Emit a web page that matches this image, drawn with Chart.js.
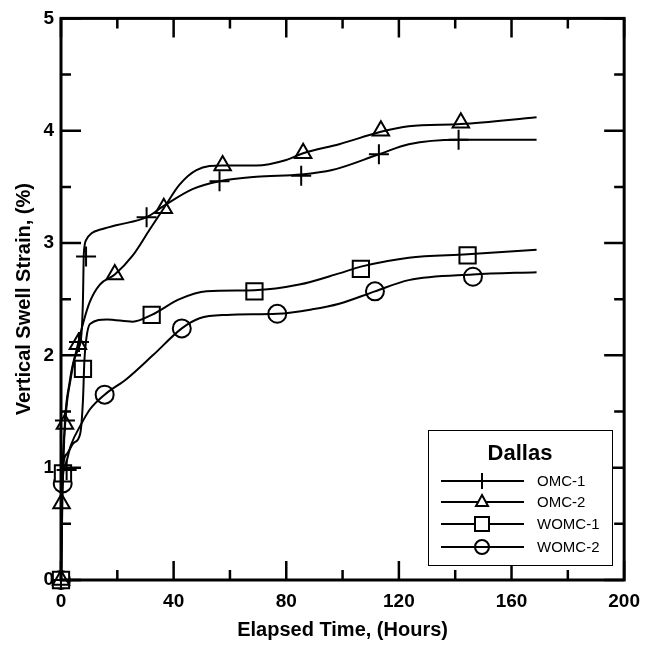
<!DOCTYPE html>
<html>
<head>
<meta charset="utf-8">
<script src="https://cdn.jsdelivr.net/npm/chart.js@4"></script>
<style>
body { margin: 0; background: #fff; }
canvas { display: block; }
</style>
</head>
<body>
<canvas id="myChart" width="650" height="656"></canvas>
<script>
// measured points (markers)
let omc1X = [0, 2, 1.4, 6.4, 8.9, 30.4, 56.3, 85.3, 112.9, 141.2];
let omc1Y = [0, 0.98, 1.42, 2.12, 2.88, 3.23, 3.55, 3.60, 3.79, 3.92];
let omc2X = [0, 0.2, 1.4, 6, 19.1, 36.5, 57.4, 86, 113.6, 142];
let omc2Y = [0, 0.68, 1.39, 2.10, 2.72, 3.31, 3.69, 3.80, 4.00, 4.07];
let womc1X = [0, 0.7, 7.8, 32.2, 68.7, 106.5, 144.4];
let womc1Y = [0, 0.95, 1.88, 2.36, 2.57, 2.77, 2.89];
let womc2X = [0, 0.6, 15.5, 42.9, 76.8, 111.5, 146.3];
let womc2Y = [0, 0.86, 1.65, 2.24, 2.37, 2.57, 2.70];

// fitted curves
let omc1FitX = [0, 0.5, 1.4, 3, 4.5, 6, 7.3, 7.8, 8.1, 9, 11, 14, 20, 30.4, 36.5, 46.7, 56.3, 69.4, 85.3, 96.3, 112.9, 123.5, 141, 168.9];
let omc1FitY = [0, 0.7, 1.4, 1.75, 1.95, 2.05, 2.2, 2.5, 2.9, 3.03, 3.09, 3.12, 3.16, 3.23, 3.33, 3.48, 3.55, 3.59, 3.61, 3.65, 3.79, 3.88, 3.92, 3.92];
let omc2FitX = [0, 0.3, 1.5, 3.5, 6, 8, 10.3, 13.8, 19.1, 25.5, 31.5, 36.5, 42.1, 48.1, 57.4, 69.4, 80, 86, 98.8, 113.6, 123.5, 142, 168.9];
let omc2FitY = [0, 0.7, 1.4, 1.8, 2.1, 2.3, 2.48, 2.63, 2.72, 2.89, 3.12, 3.31, 3.52, 3.65, 3.69, 3.69, 3.74, 3.80, 3.88, 3.99, 4.04, 4.06, 4.12];
let womc1FitX = [0, 0.5, 2, 4.5, 6.8, 7.8, 8.3, 9, 10.3, 16.3, 25.5, 32.2, 42.1, 51.7, 68.7, 84.6, 98.8, 106.5, 123.5, 144.4, 168.9];
let womc1FitY = [0, 0.95, 1.12, 1.22, 1.3, 1.6, 1.95, 2.15, 2.28, 2.32, 2.30, 2.36, 2.50, 2.57, 2.58, 2.63, 2.73, 2.79, 2.87, 2.90, 2.94];
let womc2FitX = [0, 0.5, 1.5, 3.5, 7, 10.3, 15.5, 23.3, 32.6, 42.9, 49.2, 58.8, 76.8, 89.2, 98.8, 111.5, 123.5, 146.3, 168.9];
let womc2FitY = [0, 0.87, 1.02, 1.2, 1.38, 1.52, 1.65, 1.79, 2.0, 2.24, 2.33, 2.36, 2.37, 2.41, 2.46, 2.57, 2.67, 2.72, 2.74];

let xTicks = [0, 40, 80, 120, 160, 200];
let yTicks = [0, 1, 2, 3, 4, 5];
let seriesNames = ['OMC-1', 'OMC-2', 'WOMC-1', 'WOMC-2'];
let markerStyles = ['cross', 'triangle', 'rect', 'circle'];
let legendTitle = 'Dallas';

const FONT = "Arial, 'Liberation Sans', sans-serif";

function pts(xs, ys) {
    return xs.map((x, i) => ({x: x, y: ys[i]}));
}

function curve(xs, ys) {
    return {
        type: 'line',
        data: pts(xs, ys),
        borderColor: '#000',
        borderWidth: 2,
        pointRadius: 0,
        fill: false,
        cubicInterpolationMode: 'monotone'
    };
}

let markerRadius = {cross: 10, triangle: 9.5, rect: 11.5, circle: 9};

function marks(xs, ys, style) {
    return {
        type: 'scatter',
        data: pts(xs, ys),
        pointStyle: style,
        pointRadius: markerRadius[style],
        pointBorderColor: '#000',
        pointBackgroundColor: style == 'circle' ? 'rgba(0,0,0,0)' : '#fff',
        pointBorderWidth: 2,
        showLine: false,
        clip: false
    };
}

// frame with inward ticks on all four sides, plus the legend box
const frame = {
    id: 'frame',
    afterDatasetsDraw(chart) {
        let c = chart.ctx, a = chart.chartArea;
        let xs = chart.scales.x, ys = chart.scales.y;
        c.save();
        c.strokeStyle = '#000';
        c.lineCap = 'butt';
        c.lineWidth = 2.5;
        for (let v = 0; v <= 200; v += 20) {
            let px = xs.getPixelForValue(v);
            let len = v % 40 == 0 ? 19 : 10;
            c.beginPath();
            c.moveTo(px, a.bottom); c.lineTo(px, a.bottom - len);
            c.moveTo(px, a.top); c.lineTo(px, a.top + len);
            c.stroke();
        }
        for (let v = 0; v <= 5; v += 0.5) {
            let py = ys.getPixelForValue(v);
            let len = v % 1 == 0 ? 20 : 10;
            c.beginPath();
            c.moveTo(a.left, py); c.lineTo(a.left + len, py);
            c.moveTo(a.right, py); c.lineTo(a.right - len, py);
            c.stroke();
        }
        c.lineWidth = 3;
        c.strokeRect(a.left, a.top, a.right - a.left, a.bottom - a.top);

        // legend
        let bx = 428, by = 430, bw = 184, bh = 135;
        c.fillStyle = '#fff';
        c.fillRect(bx, by, bw, bh);
        c.lineWidth = 1;
        c.strokeRect(bx + 0.5, by + 0.5, bw, bh);
        c.fillStyle = '#000';
        c.font = 'bold 22px ' + FONT;
        c.textAlign = 'center';
        c.textBaseline = 'middle';
        c.fillText(legendTitle, 520, 454);
        c.font = '15px ' + FONT;
        c.textAlign = 'left';
        let rows = [481, 502, 524, 547];
        seriesNames.forEach((name, i) => {
            let y = rows[i];
            c.lineWidth = 2;
            c.beginPath();
            c.moveTo(441, y); c.lineTo(524, y);
            c.stroke();
            let mx = 482, st = markerStyles[i];
            c.beginPath();
            if (st == 'cross') {
                c.moveTo(mx, y - 8); c.lineTo(mx, y + 8);
            } else if (st == 'triangle') {
                c.moveTo(mx, y - 7); c.lineTo(mx + 6, y + 4); c.lineTo(mx - 6, y + 4); c.closePath();
                c.fillStyle = '#fff'; c.fill();
            } else if (st == 'rect') {
                c.rect(mx - 7, y - 7, 14, 14);
                c.fillStyle = '#fff'; c.fill();
            } else {
                c.arc(mx, y, 7, 0, Math.PI * 2);
            }
            c.stroke();
            c.fillStyle = '#000';
            c.fillText(name, 537, y + 1);
        });
        c.restore();
    }
};

let ctx = document.getElementById('myChart').getContext('2d');

let myChart = new Chart(ctx, {
    data: {
        datasets: [
            curve(omc1FitX, omc1FitY),
            curve(omc2FitX, omc2FitY),
            curve(womc1FitX, womc1FitY),
            curve(womc2FitX, womc2FitY),
            marks(omc1X, omc1Y, 'cross'),
            marks(omc2X, omc2Y, 'triangle'),
            marks(womc1X, womc1Y, 'rect'),
            marks(womc2X, womc2Y, 'circle')
        ]
    },
    options: {
        responsive: false,
        animation: false,
        layout: {padding: {left: 0, top: 15, right: 22, bottom: 0}},
        plugins: {legend: {display: false}, tooltip: {enabled: false}},
        scales: {
            x: {
                type: 'linear',
                min: 0, max: 200,
                afterFit: (s) => { s.height = 76; },
                afterBuildTicks: (s) => { s.ticks = xTicks.map(v => ({value: v})); },
                grid: {display: false, drawTicks: false},
                border: {display: false},
                ticks: {
                    autoSkip: false, maxRotation: 0, padding: 10, color: '#000',
                    font: {family: FONT, size: 19, weight: 'bold'}
                },
                title: {
                    display: true, text: 'Elapsed Time, (Hours)', color: '#000',
                    font: {family: FONT, size: 20, weight: 'bold'},
                    padding: {top: 0, bottom: 14}
                }
            },
            y: {
                type: 'linear',
                min: 0, max: 5,
                afterFit: (s) => { s.width = 61; },
                afterBuildTicks: (s) => { s.ticks = yTicks.map(v => ({value: v})); },
                grid: {display: false, drawTicks: false},
                border: {display: false},
                ticks: {
                    autoSkip: false, padding: 7, color: '#000',
                    font: {family: FONT, size: 19, weight: 'bold'}
                },
                title: {
                    display: true, text: 'Vertical Swell Strain, (%)', color: '#000',
                    font: {family: FONT, size: 20, weight: 'bold'},
                    padding: {top: 12, bottom: 0}
                }
            }
        }
    },
    plugins: [frame]
});
</script>
</body>
</html>
